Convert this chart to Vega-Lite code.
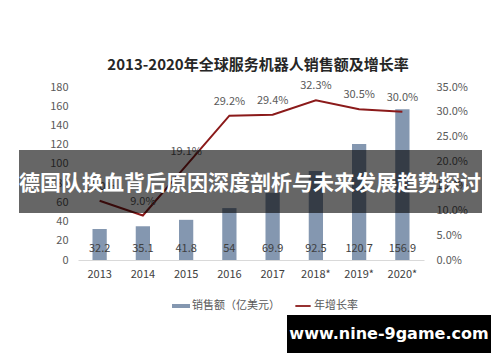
{
  "$schema": "https://vega.github.io/schema/vega-lite/v6.json",
  "width": 346,
  "height": 173,
  "autosize": {"type": "none"},
  "padding": {"left": 78, "top": 87, "right": 76, "bottom": 102},
  "background": "white",
  "config": {
    "view": {"stroke": null},
    "font": "Noto Sans CJK SC",
    "axis": {"labelFont": "Noto Sans CJK SC", "labelFontSize": 11, "labelColor": "#595959", "grid": false, "ticks": false, "title": null, "labelOverlap": false}
  },
  "title": {
    "text": "2013-2020年全球服务机器人销售额及增长率",
    "fontSize": 15,
    "fontWeight": "bold",
    "color": "#262626",
    "font": "Noto Sans CJK SC",
    "anchor": "middle",
    "baseline": "bottom",
    "offset": -8,
    "dx": 7
  },
  "datasets": {
    "robots": [
      {"year": "2013", "sales": 32.2, "growth": 12.0, "glabel": "12.0%"},
      {"year": "2014", "sales": 35.1, "growth": 9.0, "glabel": "9.0%"},
      {"year": "2015", "sales": 41.8, "growth": 19.1, "glabel": "19.1%"},
      {"year": "2016", "sales": 54, "growth": 29.2, "glabel": "29.2%"},
      {"year": "2017", "sales": 69.9, "growth": 29.4, "glabel": "29.4%"},
      {"year": "2018*", "sales": 92.5, "growth": 32.3, "glabel": "32.3%"},
      {"year": "2019*", "sales": 120.7, "growth": 30.5, "glabel": "30.5%"},
      {"year": "2020*", "sales": 156.9, "growth": 30.0, "glabel": "30.0%"}
    ],
    "overlay": [{"banner": "德国队换血背后原因深度剖析与未来发展趋势探讨", "mark": "www.nine-9game.com"}]
  },
  "data": {"name": "robots"},
  "encoding": {
    "x": {
      "field": "year",
      "type": "nominal",
      "sort": null,
      "scale": {"paddingInner": 0.67, "paddingOuter": 0.335},
      "axis": {"labelAngle": 0, "domainColor": "#d9d9d9", "labelColor": "#404040", "labelPadding": 8, "labelFontSize": 11}
    }
  },
  "layer": [
    {
      "mark": {"type": "bar", "color": "#8497b0"},
      "encoding": {
        "y": {"field": "sales", "type": "quantitative", "scale": {"domain": [0, 180]}, "axis": {"orient": "left", "values": [0, 20, 40, 60, 80, 100, 120, 140, 160, 180], "domain": false, "labelPadding": 10, "labelOverlap": false, "labelBound": false, "labelFlush": false}},
        "color": {
          "datum": "销售额（亿美元）",
          "scale": {"domain": ["销售额（亿美元）", "年增长率"], "range": ["#8497b0", "#8b1a1a"]},
          "legend": {
            "orient": "none",
            "legendX": 94,
            "legendY": 210,
            "direction": "horizontal",
            "title": null,
            "labelFontSize": 11,
            "labelColor": "#595959",
            "labelFont": "Noto Sans CJK SC",
            "labelOffset": 2,
            "columnPadding": 14,
            "symbolSize": 324,
            "symbolStrokeWidth": 0,
            "encode": {
              "symbols": {
                "update": {
                  "shape": {"signal": "datum.value === '年增长率' ? 'M-0.85,-0.1H0.85V0.1H-0.85Z' : 'M-1,-0.22H1V0.22H-1Z'"},
                  "strokeWidth": {"value": 0}
                }
              }
            }
          }
        }
      }
    },
    {
      "encoding": {
        "y": {"field": "growth", "type": "quantitative", "scale": {"domain": [0, 35]}, "axis": {"orient": "right", "values": [0, 5, 10, 15, 20, 25, 30, 35], "labelExpr": "format(datum.value, '.1f') + '%'", "domain": false, "labelPadding": 12, "labelOverlap": false, "labelBound": false, "labelFlush": false}}
      },
      "layer": [
        {
          "mark": {"type": "line", "strokeWidth": 2},
          "encoding": {
            "color": {"datum": "年增长率"}
          }
        },
        {
          "mark": {"type": "text", "dy": -14, "baseline": "middle", "fontSize": 11, "color": "#595959"},
          "encoding": {
            "text": {"field": "glabel"}
          }
        }
      ]
    },
    {
      "layer": [
        {
          "mark": {"type": "text", "dy": -11, "baseline": "middle", "fontSize": 11, "color": "#404040"},
          "encoding": {
            "y": {"datum": 0, "type": "quantitative", "scale": {"domain": [0, 180]}, "axis": null},
            "text": {"field": "sales", "type": "quantitative"}
          }
        },
        {
          "data": {"name": "overlay"},
          "mark": {"type": "rect", "color": "#000000", "opacity": 0.6},
          "encoding": {
            "x": {"value": -59},
            "x2": {"value": 404},
            "y": {"datum": 114.5, "type": "quantitative"},
            "y2": {"datum": 48.9}
          }
        },
        {
          "data": {"name": "overlay"},
          "mark": {"type": "text", "color": "white", "fontSize": 21, "fontWeight": "bold", "font": "Noto Sans CJK SC", "baseline": "middle", "align": "center"},
          "encoding": {
            "x": {"value": 172},
            "y": {"datum": 79.5, "type": "quantitative"},
            "text": {"field": "banner"}
          }
        },
        {
          "data": {"name": "overlay"},
          "mark": {"type": "rect", "color": "#000000"},
          "encoding": {
            "x": {"value": 209},
            "x2": {"value": 413},
            "y": {"datum": -57.2, "type": "quantitative"},
            "y2": {"datum": -96.8}
          }
        },
        {
          "data": {"name": "overlay"},
          "mark": {"type": "text", "color": "white", "fontSize": 16, "fontWeight": "bold", "font": "DejaVu Sans", "baseline": "middle", "align": "center"},
          "encoding": {
            "x": {"value": 311},
            "y": {"datum": -77.0, "type": "quantitative"},
            "text": {"field": "mark"}
          }
        }
      ]
    }
  ],
  "resolve": {"scale": {"y": "independent"}}
}
